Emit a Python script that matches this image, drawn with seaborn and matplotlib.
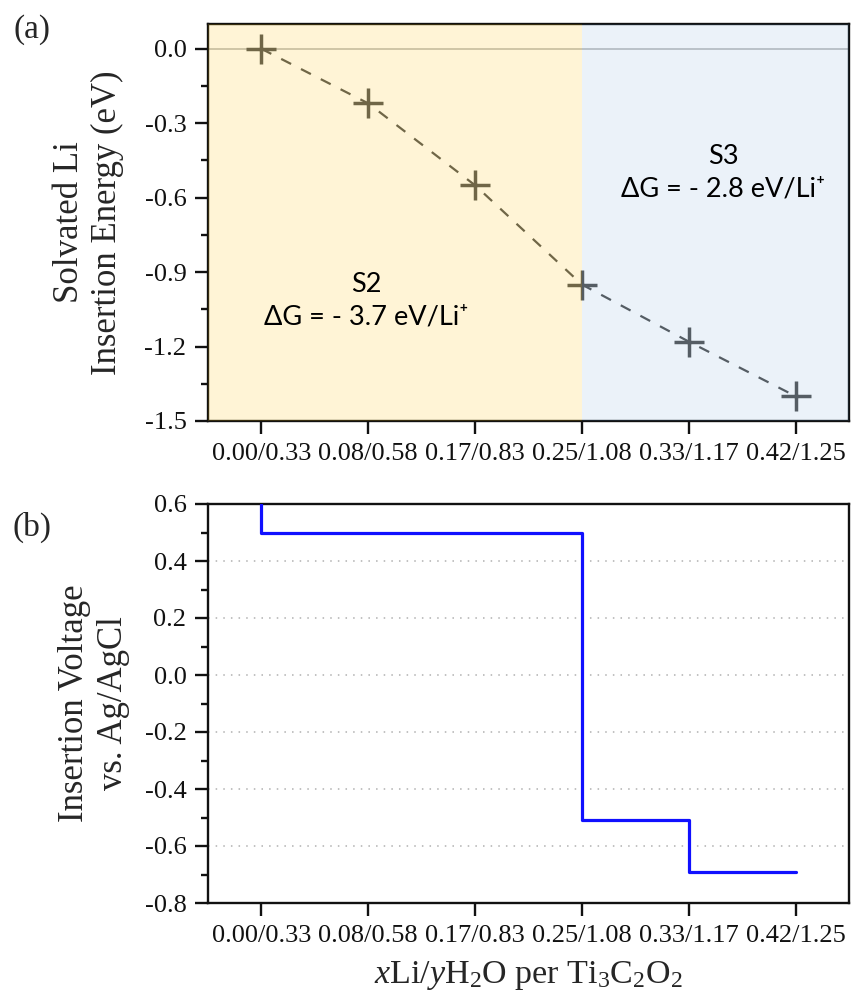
import numpy as np
import matplotlib
matplotlib.use("Agg")
import matplotlib.pyplot as plt
from matplotlib.ticker import MultipleLocator
import seaborn as sns

# Composition labels (xLi / yH2O per Ti3C2O2)
compositions = ["0.00/0.33", "0.08/0.58", "0.17/0.83", "0.25/1.08", "0.33/1.17", "0.42/1.25"]
# Solvated Li insertion energy (eV)
insertion_energy = [0.00, -0.22, -0.55, -0.95, -1.18, -1.40]
# Insertion voltage vs. Ag/AgCl, drawn as a step profile
voltage_x = [0, 0, 3, 3, 4, 4, 5]
voltage_y = [0.60, 0.50, 0.50, -0.51, -0.51, -0.69, -0.69]
# Stage boundary (index in compositions)
stage_boundary = 3
stage_labels = ["S2\n\u0394G = - 3.7 eV/Li\u207a", "S3\n\u0394G = - 2.8 eV/Li\u207a"]
energy_ticks = [-1.5, -1.2, -0.9, -0.6, -0.3, 0.0]
voltage_ticks = [-0.8, -0.6, -0.4, -0.2, 0.0, 0.2, 0.4, 0.6]

sns.set_theme(style="ticks")
plt.rcParams["font.family"] = ["Liberation Serif", "DejaVu Serif"]
plt.rcParams["mathtext.fontset"] = "custom"
plt.rcParams["mathtext.rm"] = "Liberation Serif"
plt.rcParams["mathtext.it"] = "Liberation Serif:italic"

W, H = 851, 992
fig = plt.figure(figsize=(W / 100, H / 100), dpi=100)
ax1 = fig.add_axes([208 / W, 1 - 421 / H, 641 / W, 397 / H])
ax2 = fig.add_axes([208 / W, 1 - 903 / H, 641 / W, 399 / H])

xpos = np.arange(len(compositions))
tick_fs = 19
label_fs = 25

# ---- (a) insertion energy ----
ax1.axhline(0, color="#bdbdbd", lw=1.2, zorder=1)
sns.lineplot(x=xpos, y=insertion_energy, ax=ax1, color="#555555", lw=1.6,
             linestyle=(0, (5, 5)), zorder=2)
sns.lineplot(x=xpos, y=insertion_energy, ax=ax1, color="#555555", lw=0,
             marker="+", markersize=21, mew=2.5, mec="#555555", zorder=2.5)
ax1.axvspan(-0.5, stage_boundary, color="#FFC000", alpha=0.16, lw=0, zorder=3)
ax1.axvspan(stage_boundary, 5.5, color="#5B9BD5", alpha=0.12, lw=0, zorder=3)
ann_font = dict(family=["Lato", "DejaVu Sans"], fontsize=19.5, ha="center",
                va="center", linespacing=1.4, color="#000000")
ax1.text(0.98, -1.015, stage_labels[0], **ann_font)
ax1.text(4.32, -0.50, stage_labels[1], **ann_font)
ax1.set_xlim(-0.5, 5.5)
ax1.set_ylim(-1.5, 0.1)
ax1.yaxis.set_minor_locator(MultipleLocator(0.15))
ax1.set_yticks(energy_ticks)
ax1.set_yticklabels([f"{v:.1f}" for v in energy_ticks])
ax1.set_ylabel("Solvated Li\nInsertion Energy (eV)", fontsize=label_fs,
               linespacing=1.2)
ax1.yaxis.label.set_va("center")
ax1.yaxis.set_label_coords(-0.186, 0.5)

# ---- (b) insertion voltage ----
sns.lineplot(x=voltage_x, y=voltage_y, ax=ax2, sort=False, estimator=None,
             color="#1010ff", lw=2.3, zorder=3)
ax2.set_xlim(-0.5, 5.5)
ax2.set_ylim(-0.8, 0.6)
ax2.yaxis.set_minor_locator(MultipleLocator(0.1))
ax2.set_yticks(voltage_ticks)
ax2.set_yticklabels([f"{abs(v) if v == 0 else v:.1f}" for v in voltage_ticks])
for v in voltage_ticks[1:-1]:
    ax2.axhline(v, color="#b0b0b0", lw=1.1, linestyle=(0, (1, 4)), zorder=1)
ax2.set_ylabel("Insertion Voltage\nvs. Ag/AgCl", fontsize=label_fs,
               linespacing=1.25)
ax2.yaxis.label.set_va("center")
ax2.yaxis.set_label_coords(-0.178, 0.5)
ax2.set_xlabel(r"$\mathit{x}$Li/$\mathit{y}$H$_2$O per Ti$_3$C$_2$O$_2$",
               fontsize=24.5)
ax2.xaxis.label.set_va("top")
ax2.xaxis.set_label_coords(0.5, -0.14)

for ax in (ax1, ax2):
    ax.set_xticks(xpos)
    ax.set_xticklabels(compositions)
    for s in ax.spines.values():
        s.set_visible(True)
        s.set_color("#111111")
        s.set_linewidth(1.7)
    ax.tick_params(axis="both", which="major", direction="out", length=9.5,
                   width=1.7, color="#111111", labelsize=tick_fs, pad=6,
                   labelcolor="#111111")
    ax.tick_params(axis="y", which="minor", direction="out", length=5,
                   width=1.7, color="#111111")
    ax.tick_params(axis="x", which="minor", bottom=False)
    ax.grid(False)

fig.text(32 / W, 1 - 30 / H, "(a)", fontsize=24, ha="center", va="center")
fig.text(32 / W, 1 - 527 / H, "(b)", fontsize=24, ha="center", va="center")

fig.savefig("out.png", dpi=100, facecolor="white")
